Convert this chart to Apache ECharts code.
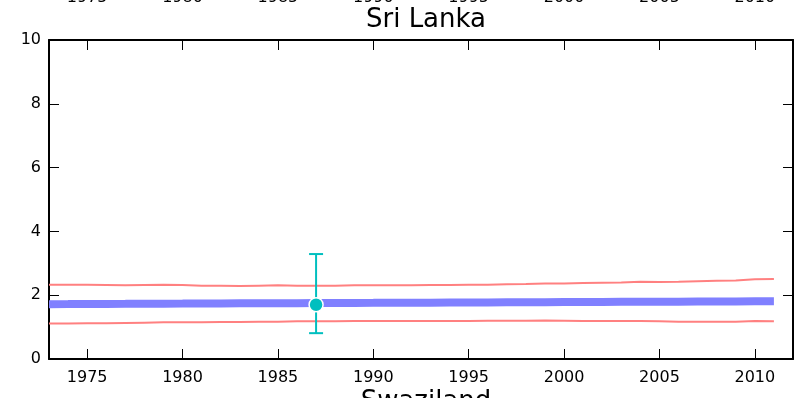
<!DOCTYPE html>
<html>
<head>
<meta charset="utf-8">
<script src="https://cdn.jsdelivr.net/npm/echarts@6/dist/echarts.min.js"></script>
<style>
  html, body { margin: 0; padding: 0; background: #fff; }
  #chart { width: 803px; height: 398px; }
</style>
</head>
<body>
<div id="chart"></div>
<script>
// years 1973..2011
const years = [1973, 1974, 1975, 1976, 1977, 1978, 1979, 1980, 1981, 1982,
  1983, 1984, 1985, 1986, 1987, 1988, 1989, 1990, 1991, 1992,
  1993, 1994, 1995, 1996, 1997, 1998, 1999, 2000, 2001, 2002,
  2003, 2004, 2005, 2006, 2007, 2008, 2009, 2010, 2011];

// model mean (blue band)
const meanVals = [1.720, 1.722, 1.725, 1.727, 1.729, 1.732, 1.734, 1.736, 1.739, 1.741,
  1.744, 1.746, 1.748, 1.751, 1.753, 1.755, 1.758, 1.760, 1.763, 1.765,
  1.767, 1.770, 1.772, 1.774, 1.777, 1.779, 1.782, 1.784, 1.786, 1.789,
  1.791, 1.793, 1.796, 1.798, 1.801, 1.803, 1.805, 1.808, 1.810];

// uncertainty bounds (red)
const upperVals = [2.33, 2.33, 2.33, 2.32, 2.31, 2.32, 2.33, 2.32, 2.30, 2.30,
  2.29, 2.30, 2.31, 2.30, 2.30, 2.30, 2.31, 2.31, 2.31, 2.31,
  2.32, 2.32, 2.33, 2.33, 2.34, 2.35, 2.37, 2.37, 2.38, 2.39,
  2.40, 2.42, 2.41, 2.42, 2.44, 2.45, 2.46, 2.50, 2.51];
const lowerVals = [1.11, 1.11, 1.12, 1.12, 1.13, 1.14, 1.15, 1.15, 1.15, 1.16,
  1.16, 1.17, 1.17, 1.18, 1.18, 1.18, 1.19, 1.19, 1.19, 1.19,
  1.19, 1.19, 1.19, 1.20, 1.20, 1.20, 1.21, 1.20, 1.19, 1.19,
  1.19, 1.19, 1.18, 1.17, 1.17, 1.17, 1.17, 1.19, 1.18];

// observed point with error bar
const obsYear = [1987];
const obsValue = [1.70];
const obsLow = [0.81];
const obsHigh = [3.29];

const titleText = 'Sri Lanka';
const nextTitleText = 'Swaziland';

const FONT = 'DejaVu Sans';
const chart = echarts.init(document.getElementById('chart'));

const pairs = (xs, ys) => xs.map((x, i) => [x, ys[i]]);
const plain = v => String(v);

const xBase = {
  type: 'value', min: 1973, max: 2012, splitNumber: 8,
  splitLine: { show: false },
  axisLine: { show: true, onZero: false, lineStyle: { color: '#000', width: 2 } },
  axisTick: { show: true, inside: true, length: 10, lineStyle: { color: '#000', width: 1 } }
};
const yBase = {
  type: 'value', min: 0, max: 10, interval: 2,
  splitLine: { show: false },
  axisLine: { show: true, onZero: false, lineStyle: { color: '#000', width: 2 } },
  axisTick: { show: true, inside: true, length: 10, lineStyle: { color: '#000', width: 1 } }
};

chart.setOption({
  animation: false,
  title: [
    { text: titleText, left: 421, top: 2, textAlign: 'center',
      textStyle: { fontFamily: FONT, fontSize: 26, fontWeight: 'normal', color: '#000' } },
    { text: nextTitleText, left: 421, top: 384, textAlign: 'center',
      textStyle: { fontFamily: FONT, fontSize: 26, fontWeight: 'normal', color: '#000' } }
  ],
  grid: { left: 49, right: 10, top: 40, bottom: 39, containLabel: false, outerBoundsMode: 'none' },
  xAxis: [
    Object.assign({}, xBase, { position: 'bottom',
      axisLabel: { fontFamily: FONT, fontSize: 16, color: '#000', margin: 11, formatter: plain,
        showMinLabel: false, showMaxLabel: false } }),
    Object.assign({}, xBase, { position: 'top',
      axisLabel: { fontFamily: FONT, fontSize: 16, color: '#000', margin: 34, formatter: plain,
        showMinLabel: false, showMaxLabel: false } })
  ],
  yAxis: [
    Object.assign({}, yBase, { position: 'left',
      axisLabel: { fontFamily: FONT, fontSize: 16, color: '#000', margin: 8 } }),
    Object.assign({}, yBase, { position: 'right', axisLabel: { show: false } })
  ],
  series: [
    { type: 'line', data: pairs(years, upperVals), showSymbol: false, z: 2,
      lineStyle: { color: '#ff8080', width: 2 } },
    { type: 'line', data: pairs(years, lowerVals), showSymbol: false, z: 2,
      lineStyle: { color: '#ff8080', width: 2 } },
    { type: 'line', data: pairs(years, meanVals), showSymbol: false, z: 3,
      lineStyle: { color: '#8080ff', width: 8, cap: 'butt' } },
    {
      type: 'custom', z: 4,
      data: obsYear.map((y, i) => [y, obsLow[i], obsHigh[i]]),
      renderItem: function (params, api) {
        const x = api.value(0);
        const top = api.coord([x, api.value(2)]);
        const bot = api.coord([x, api.value(1)]);
        const w = 7;
        const st = { stroke: '#00bfbf', lineWidth: 2 };
        return {
          type: 'group',
          children: [
            { type: 'line', shape: { x1: top[0], y1: top[1], x2: bot[0], y2: bot[1] }, style: st },
            { type: 'line', shape: { x1: top[0] - w, y1: top[1], x2: top[0] + w, y2: top[1] }, style: st },
            { type: 'line', shape: { x1: bot[0] - w, y1: bot[1], x2: bot[0] + w, y2: bot[1] }, style: st }
          ]
        };
      }
    },
    { type: 'scatter', z: 5, data: pairs(obsYear, obsValue), symbolSize: 14,
      itemStyle: { color: '#00bfbf', borderColor: '#fff', borderWidth: 1.5, opacity: 1 } }
  ]
});
</script>
</body>
</html>
